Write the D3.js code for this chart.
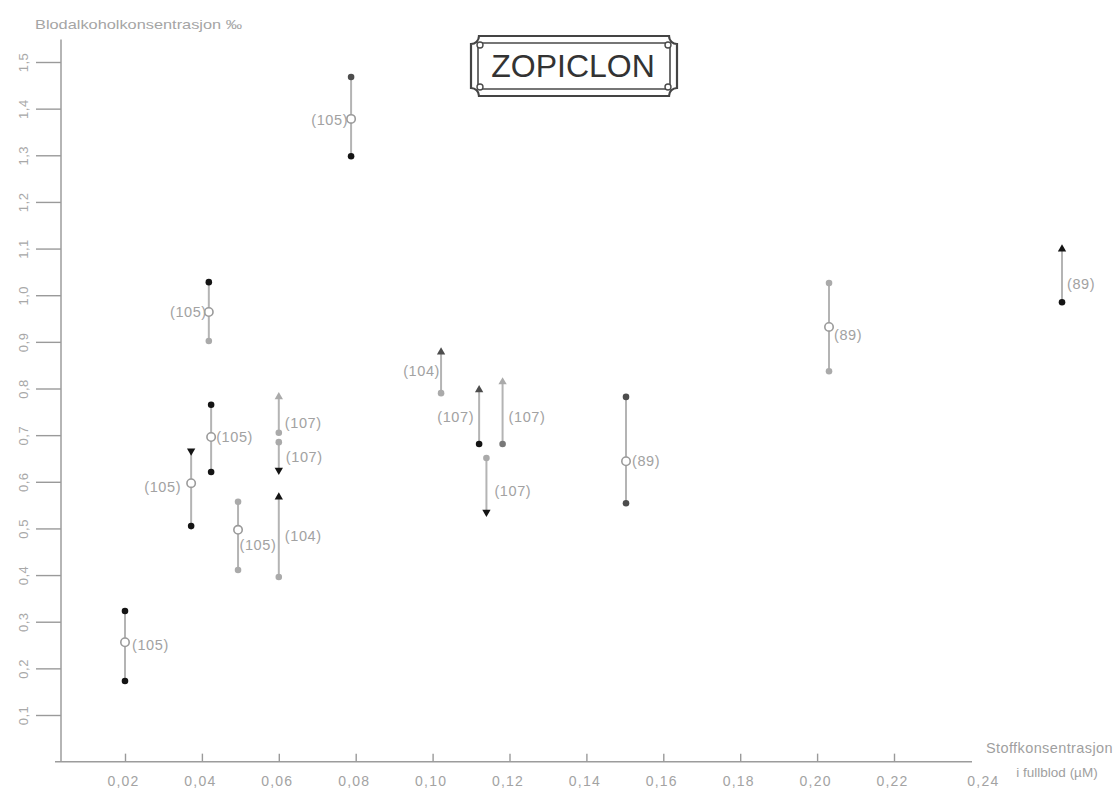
<!DOCTYPE html>
<html>
<head>
<meta charset="utf-8">
<script src="https://cdn.jsdelivr.net/npm/d3@7"></script>
<style>
  body { margin: 0; background: #fff; }
  svg { display: block; }
  text { font-family: "Liberation Sans", Arial, Helvetica, sans-serif; }
</style>
</head>
<body>
<svg id="chart" width="1115" height="799"></svg>
<script>
// Zopiclon: blood alcohol (‰) against drug concentration in whole blood (µM).
// Each case is a pair of measurements joined by a line; some carry a mean (open ring).
const concentration = [0.0200, 0.0372, 0.0418, 0.0424, 0.0494, 0.0600, 0.0600, 0.0600,
                       0.0788, 0.1022, 0.1121, 0.1182, 0.1140, 0.1503, 0.2031, 0.2637];
const caseLabel     = ["(105)", "(105)", "(105)", "(105)", "(105)", "(107)", "(107)", "(104)",
                       "(105)", "(104)", "(107)", "(107)", "(107)", "(89)", "(89)", "(89)"];
const upperValue    = [0.323, 0.666, 1.028, 0.765, 0.557, 0.782, 0.685, 0.567,
                       1.468, 0.878, 0.797, 0.814, 0.651, 0.782, 1.026, 1.099];
const meanValue     = [0.256, 0.597, 0.964, 0.696, 0.497, null, null, null,
                       1.378, null, null, null, null, 0.644, 0.932, null];
const lowerValue    = [0.173, 0.505, 0.902, 0.621, 0.411, 0.705, 0.625, 0.396,
                       1.298, 0.790, 0.681, 0.681, 0.535, 0.554, 0.837, 0.985];
const upperMarker   = ["dot", "down", "dot", "dot", "dot", "up", "dot", "up",
                       "dot", "up", "up", "up", "dot", "dot", "dot", "up"];
const upperTone     = ["black", "black", "black", "black", "light", "light", "light", "black",
                       "dark", "dark", "dark", "light", "light", "dark", "light", "black"];
const lowerMarker   = ["dot", "dot", "dot", "dot", "dot", "dot", "down", "dot",
                       "dot", "dot", "dot", "dot", "down", "dot", "dot", "dot"];
const lowerTone     = ["black", "black", "light", "black", "light", "light", "black", "light",
                       "black", "light", "black", "mid", "black", "dark", "light", "black"];

const xTickValues = [0.02, 0.04, 0.06, 0.08, 0.10, 0.12, 0.14, 0.16, 0.18, 0.20, 0.22, 0.24];
const xTickLabels = ["0,02", "0,04", "0,06", "0,08", "0,10", "0,12", "0,14", "0,16", "0,18", "0,20", "0,22", "0,24"];
const yTickValues = [0.1, 0.2, 0.3, 0.4, 0.5, 0.6, 0.7, 0.8, 0.9, 1.0, 1.1, 1.2, 1.3, 1.4, 1.5];
const yTickLabels = ["0,1", "0,2", "0,3", "0,4", "0,5", "0,6", "0,7", "0,8", "0,9", "1,0", "1,1", "1,2", "1,3", "1,4", "1,5"];

const titleText  = "ZOPICLON";
const yTitleText = "Blodalkoholkonsentrasjon ‰";
const xTitleText = ["Stoffkonsentrasjon", "i fullblod (µM)"];

// label placement per case: horizontal offset (sign picks the side) and vertical nudge
const labelDx = [7, -10, -2, 5, 1.5, 6, 7, 6, -3, -1, -5, 6, 8, 6, 5, 5];
const labelDy = [3, 4, 0, 0, 15, 8, 1, -1, 1, -2, 0, 4, 6, 0, 8, 8];

const toneColour = { black: "#141414", dark: "#4d4d4d", mid: "#787878", light: "#aaaaaa" };

const svg = d3.select("#chart");

const x = d3.scaleLinear().domain([0.02, 0.22]).range([125, 894]);
const y = d3.scaleLinear().domain([0.1, 1.5]).range([715, 62]);

const axisX = 61;      // y axis position
const axisY = y(0);    // x axis position

// ---- y axis ----
svg.append("line")
  .attr("x1", axisX).attr("x2", axisX)
  .attr("y1", y(1.548)).attr("y2", axisY)
  .attr("stroke", "#9c9c9c").attr("stroke-width", 1.5);

const yAxis = d3.axisLeft(y)
  .tickValues(yTickValues)
  .tickFormat((d, i) => yTickLabels[i])
  .tickSizeInner(25).tickSizeOuter(0);

const gy = svg.append("g").attr("transform", `translate(${axisX},0)`).call(yAxis);
gy.select(".domain").remove();
gy.selectAll(".tick line").attr("stroke", "#9a9a9a").attr("stroke-width", 1.4);
gy.selectAll(".tick text")
  .attr("transform", "rotate(-90)")
  .attr("x", 0).attr("y", -38).attr("dy", "0.35em")
  .attr("text-anchor", "middle")
  .attr("fill", "#a8a8a8")
  .style("font-size", "13px")
  .style("letter-spacing", "0.5px");

// ---- x axis ----
svg.append("line")
  .attr("x1", 55).attr("x2", 972)
  .attr("y1", axisY).attr("y2", axisY)
  .attr("stroke", "#9c9c9c").attr("stroke-width", 1.5);

const xAxis = d3.axisBottom(x)
  .tickValues(xTickValues)
  .tickFormat((d, i) => xTickLabels[i])
  .tickSizeInner(-8).tickSizeOuter(0).tickPadding(14);

const gx = svg.append("g").attr("transform", `translate(0,${axisY})`).call(xAxis);
gx.select(".domain").remove();
gx.selectAll(".tick line")
  .attr("stroke", "#9a9a9a").attr("stroke-width", 1.4)
  .attr("display", d => d > 0.225 ? "none" : null);
gx.selectAll(".tick text")
  .attr("fill", "#a3a3a3")
  .attr("dx", d => d > 0.225 ? 12 : -2)
  .style("font-size", "14px")
  .style("letter-spacing", "1.2px");

// ---- axis titles ----
svg.append("text")
  .attr("x", 35).attr("y", 29)
  .attr("textLength", 207).attr("lengthAdjust", "spacingAndGlyphs")
  .attr("fill", "#a5a5a5").style("font-size", "13px")
  .text(yTitleText);

svg.append("text")
  .attr("x", 1113).attr("y", 753)
  .attr("text-anchor", "end")
  .attr("fill", "#9f9f9f").style("font-size", "14.5px").style("letter-spacing", "0.4px")
  .text(xTitleText[0]);

svg.append("text")
  .attr("x", 1057).attr("y", 777)
  .attr("text-anchor", "middle")
  .attr("fill", "#9f9f9f").style("font-size", "13.5px")
  .text(xTitleText[1]);

// ---- title plate ----
const plate = { x0: 471, y0: 36, x1: 677, y1: 96, r: 8 };
const outerPath = d3.path();
outerPath.moveTo(plate.x0 + plate.r, plate.y0);
outerPath.lineTo(plate.x1 - plate.r, plate.y0);
outerPath.arc(plate.x1, plate.y0, plate.r, Math.PI, Math.PI / 2, true);
outerPath.lineTo(plate.x1, plate.y1 - plate.r);
outerPath.arc(plate.x1, plate.y1, plate.r, -Math.PI / 2, Math.PI, true);
outerPath.lineTo(plate.x0 + plate.r, plate.y1);
outerPath.arc(plate.x0, plate.y1, plate.r, 0, -Math.PI / 2, true);
outerPath.lineTo(plate.x0, plate.y0 + plate.r);
outerPath.arc(plate.x0, plate.y0, plate.r, Math.PI / 2, 0, true);
outerPath.closePath();

const title = svg.append("g");
title.append("path")
  .attr("d", outerPath.toString())
  .attr("fill", "none").attr("stroke", "#444").attr("stroke-width", 2.2);
const inner = { x0: 478, y0: 43, x1: 670, y1: 89 };
title.append("rect")
  .attr("x", inner.x0).attr("y", inner.y0)
  .attr("width", inner.x1 - inner.x0).attr("height", inner.y1 - inner.y0)
  .attr("rx", 3)
  .attr("fill", "none").attr("stroke", "#4a4a4a").attr("stroke-width", 1.6);
title.selectAll("circle.corner")
  .data([[inner.x0 + 2, inner.y0 + 2], [inner.x1 - 2, inner.y0 + 2],
         [inner.x0 + 2, inner.y1 - 2], [inner.x1 - 2, inner.y1 - 2]])
  .join("circle")
  .attr("class", "corner")
  .attr("cx", d => d[0]).attr("cy", d => d[1]).attr("r", 3)
  .attr("fill", "#fff").attr("stroke", "#4a4a4a").attr("stroke-width", 1.4);
title.append("text")
  .attr("x", 573).attr("y", 77)
  .attr("text-anchor", "middle")
  .attr("fill", "#333").style("font-size", "32px")
  .text(titleText);

// ---- cases ----
const cases = concentration.map((c, i) => ({
  c, label: caseLabel[i],
  upper: upperValue[i], mean: meanValue[i], lower: lowerValue[i],
  upperMarker: upperMarker[i], upperTone: upperTone[i],
  lowerMarker: lowerMarker[i], lowerTone: lowerTone[i],
  dx: labelDx[i], dy: labelDy[i]
}));

const plot = svg.append("g");

plot.selectAll("line.link")
  .data(cases).join("line")
  .attr("class", "link")
  .attr("x1", d => x(d.c)).attr("x2", d => x(d.c))
  .attr("y1", d => y(d.upper)).attr("y2", d => y(d.lower))
  .attr("stroke", "#b4b4b4").attr("stroke-width", 2);

const symbolFor = kind => kind === "dot"
  ? d3.symbol(d3.symbolCircle, 34)()
  : d3.symbol(d3.symbolTriangle, 30)();

function drawEnds(key, markerKey, toneKey) {
  plot.selectAll(`path.${key}`)
    .data(cases).join("path")
    .attr("class", key)
    .attr("d", d => symbolFor(d[markerKey]))
    .attr("transform", d => {
      const rot = d[markerKey] === "down" ? " rotate(180)" : "";
      return `translate(${x(d.c)},${y(d[key])})${rot}`;
    })
    .attr("fill", d => toneColour[d[toneKey]]);
}
drawEnds("upper", "upperMarker", "upperTone");
drawEnds("lower", "lowerMarker", "lowerTone");

plot.selectAll("circle.mean")
  .data(cases.filter(d => d.mean !== null)).join("circle")
  .attr("class", "mean")
  .attr("cx", d => x(d.c)).attr("cy", d => y(d.mean)).attr("r", 4.2)
  .attr("fill", "#fff").attr("stroke", "#9a9a9a").attr("stroke-width", 1.6);

plot.selectAll("text.case")
  .data(cases).join("text")
  .attr("class", "case")
  .attr("x", d => x(d.c) + d.dx)
  .attr("y", d => (d.mean !== null ? y(d.mean) : (y(d.upper) + y(d.lower)) / 2) + d.dy)
  .attr("dy", "0.35em")
  .attr("text-anchor", d => d.dx < 0 ? "end" : "start")
  .attr("fill", "#a2a2a2")
  .style("font-size", "14.5px")
  .style("letter-spacing", "0.6px")
  .text(d => d.label);
</script>
</body>
</html>
